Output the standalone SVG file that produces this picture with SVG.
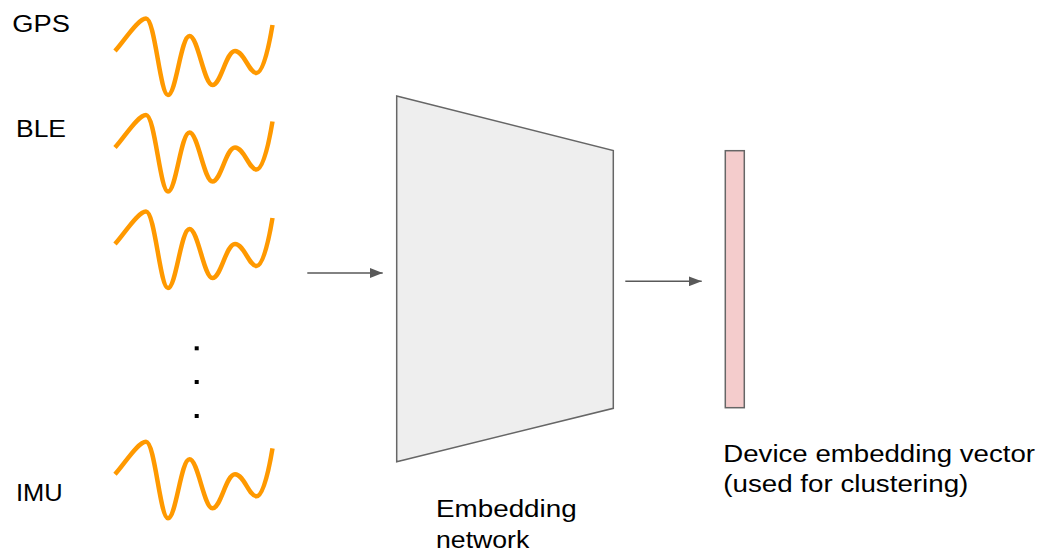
<svg xmlns="http://www.w3.org/2000/svg" width="1044" height="554" viewBox="0 0 1044 554">
<defs>
<style>
.lbl{font-family:"Liberation Sans",Arial,sans-serif;font-size:23.5px;fill:#000}
.wave{fill:none;stroke:#ff9900;stroke-width:4.5}
.conn{stroke:#595959;stroke-width:1.5;fill:none}
</style>
<path id="w" d="M115,51 C125,40 138,18.5 146,18.5 C155,18.5 160,95 168,95 C176,95 181,36 189.5,36 C198,36 204,85 212.5,85 C221,85 226,51 235,51 C244,51 249,73 256.5,73 C264,73 270,40 272.5,25"/>
<marker id="ah" markerWidth="13" markerHeight="10" refX="13" refY="5" orient="auto" markerUnits="userSpaceOnUse">
<path d="M0,0 L13,5 L0,10 Z" fill="#595959"/>
</marker>
</defs>
<rect width="1044" height="554" fill="#ffffff"/>
<g id="labels">
<text class="lbl" x="12.3" y="32.3" textLength="57.7" lengthAdjust="spacingAndGlyphs">GPS</text>
<text class="lbl" x="16" y="137.3" textLength="50" lengthAdjust="spacingAndGlyphs">BLE</text>
<text class="lbl" x="16" y="501" textLength="46.7" lengthAdjust="spacingAndGlyphs">IMU</text>
</g>
<g id="signal-gps"><use href="#w" class="wave"/></g>
<g id="signal-ble"><use href="#w" class="wave" transform="translate(0,96.5)"/></g>
<g id="signal-3"><use href="#w" class="wave" transform="translate(0,193)"/></g>
<g id="ellipsis" fill="#000">
<rect x="194.7" y="346.3" width="4" height="4"/>
<rect x="194.7" y="380" width="4" height="4"/>
<rect x="194.7" y="414" width="4" height="4"/>
</g>
<g id="signal-imu"><use href="#w" class="wave" transform="translate(0,423.3)"/></g>
<g id="embedding-network">
<polygon points="396.7,96 613.3,150.5 613.3,408.3 396.7,461.7" fill="#eeeeee" stroke="#666666" stroke-width="1.5"/>
<text class="lbl" x="436" y="516.7" textLength="140.7" lengthAdjust="spacingAndGlyphs">Embedding</text>
<text class="lbl" x="436" y="547.7" textLength="93.3" lengthAdjust="spacingAndGlyphs">network</text>
</g>
<g id="embedding-vector">
<rect x="725.3" y="150.7" width="19" height="257" fill="#f4cccc" stroke="#666666" stroke-width="1.5"/>
<text class="lbl" x="723.3" y="461.7" textLength="311.7" lengthAdjust="spacingAndGlyphs">Device embedding vector</text>
<text class="lbl" x="723.3" y="491.5" textLength="245" lengthAdjust="spacingAndGlyphs">(used for clustering)</text>
</g>
<g id="connectors">
<line class="conn" x1="307.3" y1="273" x2="382.7" y2="273" marker-end="url(#ah)"/>
<line class="conn" x1="625.3" y1="281.3" x2="701.7" y2="281.3" marker-end="url(#ah)"/>
</g>
</svg>
